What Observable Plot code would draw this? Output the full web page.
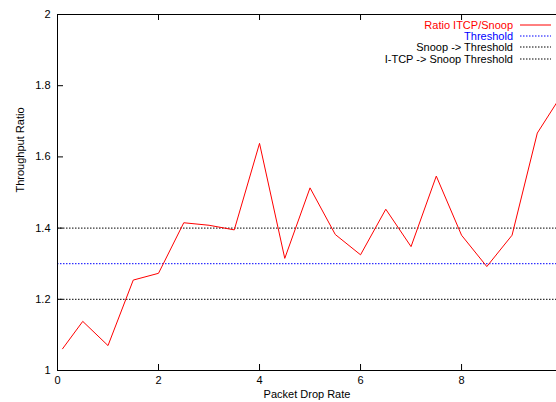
<!DOCTYPE html>
<html>
<head>
<meta charset="utf-8">
<script src="https://cdn.jsdelivr.net/npm/d3@7"></script>
<script src="https://cdn.jsdelivr.net/npm/@observablehq/plot@0.6"></script>
<style>
  html, body { margin: 0; padding: 0; background: #fff; }
  #wrap { position: relative; width: 556px; height: 402px; overflow: hidden; font-family: "Liberation Sans", Arial, sans-serif; }
  #legend { position: absolute; top: 19px; left: 300px; width: 251px; font-size: 11px; }
  .row { display: flex; justify-content: flex-end; align-items: center; height: 11.3px; }
  .row span { margin-right: 7px; white-space: nowrap; }
  .row svg { display: block; }
</style>
</head>
<body>
<div id="wrap"></div>
<script>
const dropRate = [0.1, 0.5, 1, 1.5, 2, 2.5, 3, 3.5, 4, 4.5, 5, 5.5, 6, 6.5, 7, 7.5, 8, 8.5, 9, 9.5, 10];
const ratio = [1.061, 1.138, 1.070, 1.254, 1.273, 1.415, 1.408, 1.395, 1.638, 1.315, 1.513, 1.382, 1.325, 1.453, 1.348, 1.546, 1.380, 1.292, 1.380, 1.667, 1.778];
const threshold = [1.3];
const snoopThreshold = [1.2];
const itcpThreshold = [1.4];
const xTicks = [0, 2, 4, 6, 8];
const yTicks = [1, 1.2, 1.4, 1.6, 1.8, 2];
const legendItems = [
  {label: "Ratio ITCP/Snoop", color: "#ff0000", dash: null},
  {label: "Threshold", color: "#0000ff", dash: "1.5,1.5"},
  {label: "Snoop -> Threshold", color: "#000000", dash: "1.5,1.5"},
  {label: "I-TCP -> Snoop Threshold", color: "#000000", dash: "1.5,1.5"}
];

const data = dropRate.map((x, i) => ({x, y: ratio[i]}));
const W = 556, H = 402, mL = 57, mT = 14, mB = 32, mR = 0;
const frameW = W - mL - mR, frameH = H - mT - mB;
const tick = 6;

const chart = Plot.plot({
  width: W, height: H,
  marginLeft: mL, marginTop: mT, marginBottom: mB, marginRight: mR,
  style: {fontFamily: '"Liberation Sans", Arial, sans-serif', fontSize: "11px", color: "#000", background: "#fff"},
  x: {domain: [0, 9.88]},
  y: {domain: [1, 2]},
  marks: [
    Plot.ruleY(itcpThreshold, {stroke: "#000", strokeDasharray: "1.5,1.5", strokeWidth: 1}),
    Plot.ruleY(snoopThreshold, {stroke: "#000", strokeDasharray: "1.5,1.5", strokeWidth: 1}),
    Plot.ruleY(threshold, {stroke: "#0000ff", strokeDasharray: "1.5,1.5", strokeWidth: 1}),
    Plot.line(data, {x: "x", y: "y", stroke: "#ff0000", strokeWidth: 1, clip: true}),
    Plot.tickX(xTicks, {x: d => d, stroke: "#000", insetTop: frameH - tick}),
    Plot.tickX(xTicks, {x: d => d, stroke: "#000", insetBottom: frameH - tick}),
    Plot.tickY(yTicks, {y: d => d, stroke: "#000", insetRight: frameW - tick}),
    Plot.ruleX([0], {stroke: "#000", strokeWidth: 1}),
    Plot.ruleY([1, 2], {stroke: "#000", strokeWidth: 1}),
    Plot.axisX(xTicks, {tickSize: 0, tickPadding: 6, label: null, fill: "#000"}),
    Plot.axisY(yTicks, {tickSize: 0, tickPadding: 7, label: null, fill: "#000", tickFormat: d => String(d)}),
    Plot.text(["Packet Drop Rate"], {frameAnchor: "bottom", dy: 27, fill: "#000"}),
    Plot.text(["Throughput Ratio"], {frameAnchor: "left", dx: -37, rotate: -90, fill: "#000"})
  ]
});

const wrap = document.getElementById("wrap");
wrap.appendChild(chart);

const legend = document.createElement("div");
legend.id = "legend";
for (const item of legendItems) {
  const row = document.createElement("div");
  row.className = "row";
  const s = document.createElement("span");
  s.textContent = item.label;
  s.style.color = item.color;
  row.appendChild(s);
  const svg = d3.create("svg").attr("width", 31).attr("height", 4);
  svg.append("line").attr("x1", 0).attr("x2", 31).attr("y1", 2).attr("y2", 2)
    .attr("stroke", item.color).attr("stroke-width", 1)
    .attr("stroke-dasharray", item.dash);
  row.appendChild(svg.node());
  legend.appendChild(row);
}
wrap.appendChild(legend);
</script>
</body>
</html>
